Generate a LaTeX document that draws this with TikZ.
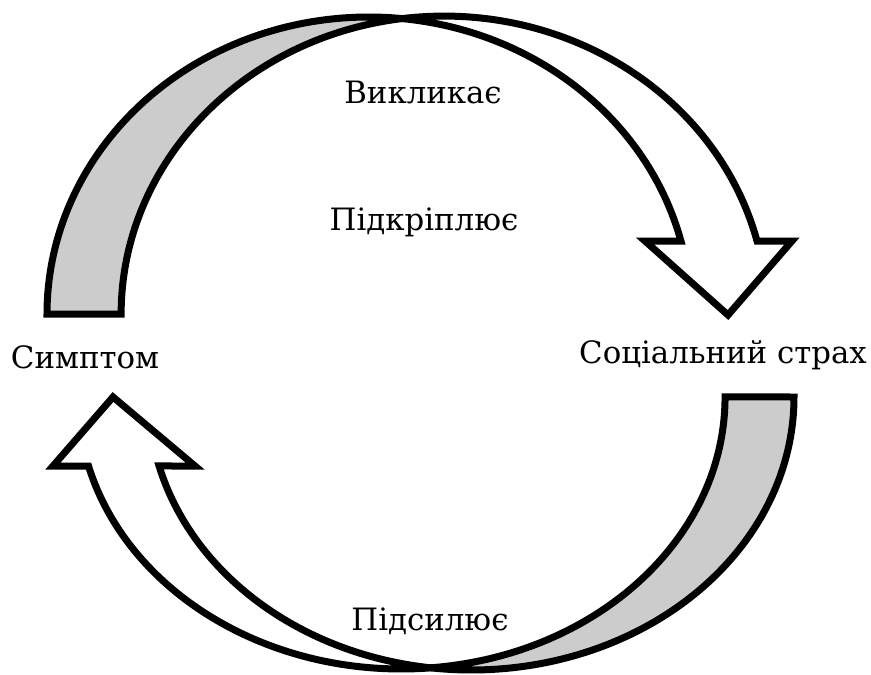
\documentclass[tikz,border=0pt]{standalone}
\usepackage{fontspec}
\setmainfont{DejaVu Serif}
\definecolor{backgray}{HTML}{CCCCCC}
\begin{document}
\begin{tikzpicture}[x=1pt, y=-1pt,
    band/.style={draw=black, line width=7pt, line join=miter},
    lbl/.style={anchor=base, font=\fontsize{30.8}{36}\selectfont}]
    \useasboundingbox (0,0) rectangle (871,675);

    % Upper arrow: back side (gray), then front side with head
    \filldraw[band, fill=backgray] (47,314)
        arc[start angle=180, end angle=275.9, x radius=321.9, y radius=297]
        arc[start angle=262.5, end angle=180, x radius=323, y radius=298]
        -- cycle;
    \filldraw[band, fill=white] (402,18.6)
        arc[start angle=275.9, end angle=345.77, x radius=321.9, y radius=297]
        -- (645,241) -- (728,315) -- (792,241) -- (757,241)
        arc[start angle=345.8, end angle=262.5, x radius=323, y radius=298]
        -- cycle;

    % Lower arrow: back side (gray), then front side with head
    \filldraw[band, fill=backgray] (794,397)
        arc[start angle=0, end angle=97.26, x radius=322.7, y radius=273]
        arc[start angle=84.86, end angle=0, x radius=323.5, y radius=272]
        -- cycle;
    \filldraw[band, fill=white] (430.5,667.8)
        arc[start angle=97.26, end angle=165.36, x radius=322.7, y radius=273]
        -- (195,466) -- (113,397) -- (53,466) -- (88.5,466)
        arc[start angle=165.3, end angle=84.86, x radius=323.5, y radius=272]
        -- cycle;

    % Labels
    \node[lbl] (causes) at (423,103) {Викликає};
    \node[lbl] (reinforces) at (424,230) {Підкріплює};
    \node[lbl] (symptom) at (85,368) {Симптом};
    \node[lbl] (fear) at (723,363) {Соціальний страх};
    \node[lbl] (amplifies) at (430,630) {Підсилює};
\end{tikzpicture}
\end{document}
